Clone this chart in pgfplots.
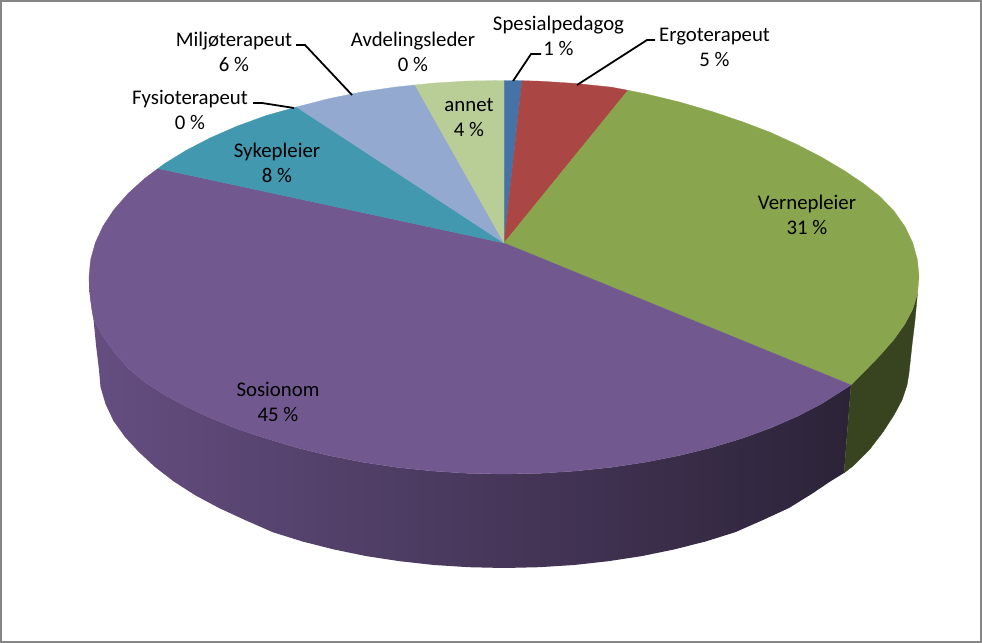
\documentclass[border=0pt]{standalone}
\usepackage{pgfplots}
\pgfplotsset{compat=1.18}
\usepackage{fontspec}
\setmainfont{Carlito}
\definecolor{cblue}{HTML}{4572A7}
\definecolor{cred}{HTML}{AA4643}
\definecolor{cgreen}{HTML}{89A54E}
\definecolor{cpurple}{HTML}{71588F}
\definecolor{cteal}{HTML}{4198AF}
\definecolor{clight}{HTML}{93A9CF}
\definecolor{cannet}{HTML}{B9CD96}
\definecolor{cgside}{HTML}{38431F}
\definecolor{cframe}{HTML}{868686}
\definecolor{sideL}{HTML}{654E81}
\definecolor{sideM}{HTML}{463758}
\definecolor{sideR}{HTML}{2C2338}
\tikzset{
  lab/.style={font=\fontsize{20.8bp}{25bp}\selectfont, align=center, text=black, inner sep=0pt},
  leader/.style={black, line width=1.8bp, line join=miter},
}
\begin{document}
\begin{tikzpicture}
\begin{axis}[
  scale only axis, width=982bp, height=643bp,
  xmin=0, xmax=982, ymin=0, ymax=643, y dir=reverse,
  hide axis, clip=true,
]
% frame
\addplot[draw=cframe, line width=2bp, line join=miter] coordinates {(1,1)(981,1)(981,642)(1,642)} --cycle;
% side walls
\addplot[draw=none, left color=sideL, middle color=sideM, right color=sideR] coordinates {
(89,277)(89.3,287)(90.2,297)(92,310)(93.5,319)(103.1,336)(114,352)(127.9,368)(144.6,382)(164,394.5)(186.1,406.5)(210.6,418)(237.2,428.9)(266,438.4)(296.5,447.6)(328.6,455.5)(362.1,462.1)(396.6,467.3)(432,471)(467.8,473.3)(504,474)(540.2,473.3)(576,471)(611.4,467.3)(645.9,462.1)(679.4,455.5)(711.5,447.6)(742,438.4)(770.8,427.9)(797.4,416.3)(821.9,403.6)(851,385)
(844,473)(830,481.6)(812.7,493.3)(789,508)(763,520)(735.2,532.2)(705.5,541.5)(674.3,549.4)(641.8,556.1)(608.3,561.2)(574,565)(539.1,567.2)(504,568)(468.9,567.2)(434,565)(399.7,561.2)(366.2,556.1)(333.7,549.4)(302.5,541.5)(272.8,532.2)(245,520)(219,508)(195.3,495.3)(173.9,481.6)(155,467)(138.8,452)(125,437)(113.5,421)(105.5,404)(100.5,387)(99,370)(96,345)(93.5,319)
} --cycle;
\addplot[fill=cgside, draw=cgside, line width=0.3bp] coordinates {
(851,385)(863.4,372.5)(880.1,355.3)(894,339.4)(904.9,324)(912.7,309.2)(917.4,294.2)(915,320)(912,345)(909,373)(907,385)(902,400)(894,415)(883,432)(869.2,450)(853,466)(844,473)
} --cycle;
% top faces
\addplot[fill=cblue, draw=cblue, line width=0.3bp] coordinates {(504,243)(504,80.5)(522,80.7)} --cycle;
\addplot[fill=cred, draw=cred, line width=0.3bp] coordinates {(504,243)(522,80.7)(540.2,81.2)(576,83.5)(611.4,87.2)(628,90.3)} --cycle;
\addplot[fill=cgreen, draw=cgreen, line width=0.3bp] coordinates {
(504,243)(628,90.3)(645.9,93.9)(679.4,102)(711.5,111.4)(742,121.6)(770.8,132.6)(797.4,144.7)(821.9,157.4)(844,170.5)(863.4,183.5)(880.1,196.7)(894,211.1)(904.9,226.5)(912.7,242.8)(917.4,259.8)(919,277)(917.4,294.2)(912.7,309.2)(904.9,324)(894,339.4)(880.1,355.3)(863.4,372.5)(851,385)
} --cycle;
\addplot[fill=cpurple, draw=cpurple, line width=0.3bp] coordinates {
(504,243)(851,385)(821.9,403.6)(797.4,416.3)(770.8,427.9)(742,438.4)(711.5,447.6)(679.4,455.5)(645.9,462.1)(611.4,467.3)(576,471)(540.2,473.3)(504,474)(467.8,473.3)(432,471)(396.6,467.3)(362.1,462.1)(328.6,455.5)(296.5,447.6)(266,438.4)(237.2,428.9)(210.6,418)(186.1,406.5)(164,394.5)(144.6,382)(127.9,368)(114,352)(103.1,336)(93.5,319)(92,310)(90.2,297)(89.3,287)(89,277)(90.6,259.8)(95.3,242.8)(103.1,226)(114,209.6)(127.9,193.7)(144.6,178.5)(158,168.5)
} --cycle;
\addplot[fill=cteal, draw=cteal, line width=0.3bp] coordinates {(504,243)(158,168.5)(164,164)(186.1,150.4)(210.6,137.7)(237.2,126.1)(266,115.6)(296.5,107)} --cycle;
\addplot[fill=clight, draw=clight, line width=0.3bp] coordinates {(504,243)(296.5,107)(328.6,98.7)(362.1,91.9)(396.6,86.9)(415,85)} --cycle;
\addplot[fill=cannet, draw=cannet, line width=0.3bp] coordinates {(504,243)(415,85)(432,83.2)(467.8,81)(504,80.5)} --cycle;
% leader lines
\addplot[leader] coordinates {(513,81)(531,54)(541,54)};
\addplot[leader] coordinates {(577,85)(647,40)(655,40)};
\addplot[leader] coordinates {(352,95)(305,45)(296,45)};
\addplot[leader] coordinates {(294,108)(262,103)(253,103)};
% labels
\node[lab] at (axis cs:558.5,36) {Spesialpedagog\\1 \%};
\node[lab] at (axis cs:714.5,47) {Ergoterapeut\\5 \%};
\node[lab] at (axis cs:234,52) {Miljøterapeut\\6 \%};
\node[lab] at (axis cs:413,52) {Avdelingsleder\\0 \%};
\node[lab] at (axis cs:190,110) {Fysioterapeut\\0 \%};
\node[lab] at (axis cs:469,118) {annet\\4 \%};
\node[lab] at (axis cs:277,163) {Sykepleier\\8 \%};
\node[lab] at (axis cs:807,215) {Vernepleier\\31 \%};
\node[lab] at (axis cs:278,402) {Sosionom\\45 \%};
\end{axis}
\end{tikzpicture}
\end{document}
